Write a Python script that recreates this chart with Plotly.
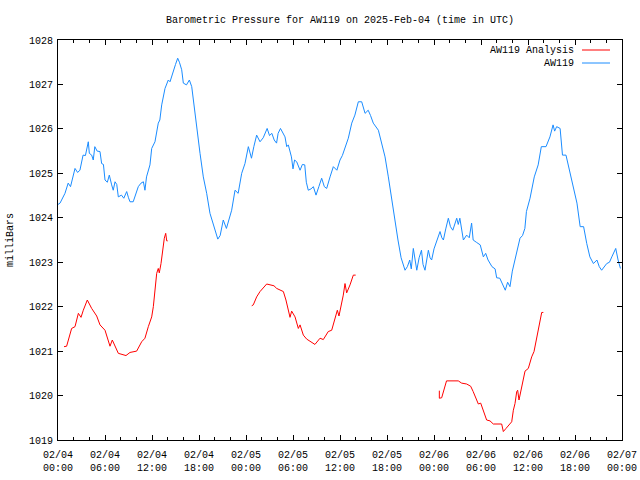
import pandas as pd
import plotly.graph_objects as go

BASE = pd.Timestamp("2025-02-04 00:00")

# AW119 observed pressure (hours since 02/04 00:00 UTC, mb)
aw_hours = [0.0, 0.26, 0.89, 1.3, 1.6, 1.96, 2.17, 2.5, 2.8, 3.2, 3.5, 3.87, 4.0, 4.3, 4.5, 4.7, 5.0, 5.36, 5.57, 5.8,
            6.0, 6.3, 6.55, 6.85, 7.05, 7.28, 7.5, 7.7, 8.1, 8.4, 8.77, 9.0, 9.19, 9.6, 10.0, 10.25, 10.6, 10.9, 11.1, 11.3,
            11.74, 11.96, 12.38, 12.8, 13.0, 13.24, 13.66, 14.08, 14.3, 14.72, 15.0, 15.28, 15.5, 15.79, 16.0, 16.4, 16.77,
            17.07, 17.27, 17.7, 18.13, 18.55, 18.98, 19.4, 20.04, 20.4, 20.7, 21.1, 21.5, 21.8, 22.17, 22.6, 23.0, 23.45,
            23.87, 24.3, 24.7, 25.0, 25.36, 25.79, 26.2, 26.7, 27.0, 27.3, 27.6, 27.9, 28.1, 28.4, 28.7, 28.98, 29.2, 29.4,
            29.8, 30.0, 30.2, 30.47, 30.9, 31.2, 31.5, 31.7, 31.95, 32.3, 32.6, 32.94, 33.3, 33.66, 34.0, 34.3, 34.73, 35.15,
            35.6, 36.0, 36.3, 36.64, 37.06, 37.5, 37.9, 38.34, 38.77, 39.2, 39.6, 39.9, 40.25, 40.9, 41.3, 41.75, 42.17,
            42.6, 43.0, 43.4, 43.8, 44.3, 44.6, 44.9, 45.1, 45.36, 45.8, 46.1, 46.4, 46.6, 46.85, 47.28, 47.5, 47.7, 48.0,
            48.35, 48.77, 49.0, 49.2, 49.5, 49.83, 50.1, 50.4, 50.9, 51.1, 51.3, 51.5, 51.75, 52.17, 52.5, 52.8, 53.0, 53.4,
            53.9, 54.3, 54.6, 54.9, 55.4, 55.8, 56.0, 56.4, 56.8, 57.1, 57.4, 57.7, 58.0, 58.3, 58.98, 59.3, 59.6, 59.8,
            60.26, 60.8, 61.3, 61.7, 62.3, 62.8, 63.2, 63.4, 63.66, 64.1, 64.4, 64.85, 65.4, 65.8, 66.25, 66.66, 67.1, 67.5,
            67.9, 68.35, 68.8, 69.1, 69.4, 70.05, 70.4, 70.7, 71.2, 71.5, 71.8]
aw_mb = [1024.3, 1024.33, 1024.55, 1024.78, 1024.7, 1025.0, 1025.11, 1025.02, 1025.07, 1025.41, 1025.4, 1025.71, 1025.45,
         1025.41, 1025.3, 1025.6, 1025.5, 1025.49, 1025.22, 1025.2, 1024.85, 1024.8, 1024.96, 1024.74, 1024.62, 1024.81,
         1024.75, 1024.47, 1024.51, 1024.44, 1024.59, 1024.45, 1024.36, 1024.36, 1024.55, 1024.7, 1024.78, 1024.81,
         1024.62, 1024.92, 1025.19, 1025.56, 1025.71, 1026.13, 1026.2, 1026.54, 1026.91, 1027.1, 1027.06, 1027.33,
         1027.45, 1027.59, 1027.5, 1027.33, 1027.03, 1026.99, 1027.1, 1026.95, 1026.65, 1025.97, 1025.45, 1024.92,
         1024.55, 1024.1, 1023.72, 1023.52, 1023.6, 1023.95, 1023.76, 1023.95, 1024.17, 1024.62, 1024.55, 1025.0,
         1025.22, 1025.6, 1025.34, 1025.6, 1025.86, 1025.71, 1025.8, 1026.01, 1025.85, 1025.9, 1025.75, 1025.68, 1025.9,
         1026.01, 1025.9, 1025.82, 1025.6, 1025.64, 1025.37, 1025.1, 1025.3, 1025.26, 1025.07, 1025.2, 1025.19, 1024.8,
         1024.62, 1024.65, 1024.7, 1024.51, 1024.7, 1024.89, 1024.7, 1024.66, 1024.92, 1025.15, 1025.07, 1025.3, 1025.4,
         1025.6, 1025.79, 1026.13, 1026.31, 1026.61, 1026.61, 1026.35, 1026.42, 1026.3, 1026.13, 1025.97, 1025.68,
         1025.37, 1024.92, 1024.4, 1023.88, 1023.5, 1023.1, 1022.82, 1022.9, 1023.05, 1022.85, 1023.31, 1022.82, 1023.1,
         1023.27, 1022.95, 1022.82, 1023.27, 1023.1, 1023.05, 1023.3, 1023.5, 1023.69, 1023.55, 1023.5, 1023.75,
         1023.99, 1023.8, 1023.72, 1023.99, 1023.85, 1023.99, 1023.8, 1023.5, 1023.61, 1023.55, 1023.88, 1023.5,
         1023.45, 1023.39, 1023.12, 1023.2, 1023.05, 1022.9, 1022.85, 1022.65, 1022.64, 1022.5, 1022.37, 1022.55,
         1022.45, 1022.8, 1023.05, 1023.54, 1023.6, 1023.76, 1024.14, 1024.44, 1024.92, 1025.19, 1025.6, 1025.6,
         1025.82, 1026.09, 1025.95, 1026.05, 1026.01, 1025.41, 1025.41, 1025.0, 1024.7, 1024.33, 1023.8, 1023.8,
         1023.42, 1023.12, 1022.97, 1023.05, 1022.9, 1022.82, 1022.97, 1023.0, 1023.12, 1023.31, 1023.05, 1022.86]

# AW119 Analysis (three runs; None = gap)
an_hours = [0.77, 1.1, 1.74, 2.17, 2.6, 2.94, 3.23, 3.74, 4.3, 4.94, 5.36, 6.0, 6.64, 6.93, 7.7, 8.68, 9.19, 10.04, 10.68,
            11.1, 11.53, 11.96, 12.17, 12.38, 12.6, 12.8, 12.93, 13.15, 13.36, 13.57, 13.75, 13.88, 14.0, 19.0,
            24.73, 24.93, 25.36, 25.79, 26.64, 27.57, 27.92, 28.77, 29.1, 29.4, 29.62, 29.83, 30.26, 30.68, 30.9, 31.32,
            31.75, 32.8, 33.45, 33.87, 34.5, 34.94, 35.36, 35.66, 35.87, 36.2, 36.42, 36.64, 36.85, 37.28, 37.7, 38.0, 43.0,
            48.68, 48.68, 48.98, 49.4, 49.6, 51.1, 51.53, 52.17, 52.68, 53.0, 53.36, 53.66, 53.96, 54.3, 54.72, 55.15,
            55.57, 56.64, 56.85, 57.19, 57.62, 57.92, 58.13, 58.34, 58.56, 58.68, 58.85, 59.07, 59.4, 59.62, 60.04, 60.47,
            60.77, 61.11, 61.32, 61.62, 61.75, 61.96]
an_mb = [1021.1, 1021.11, 1021.51, 1021.55, 1021.85, 1021.76, 1021.92, 1022.15, 1021.96, 1021.79, 1021.59, 1021.47,
         1021.11, 1021.25, 1020.95, 1020.9, 1020.97, 1021.0, 1021.21, 1021.29, 1021.55, 1021.77, 1022.0, 1022.37,
         1022.75, 1022.86, 1022.76, 1022.97, 1023.27, 1023.54, 1023.65, 1023.48, 1023.48, None,
         1022.02, 1022.04, 1022.22, 1022.34, 1022.51, 1022.47, 1022.41, 1022.34, 1022.15, 1021.92, 1021.76, 1021.9,
         1021.77, 1021.51, 1021.59, 1021.36, 1021.27, 1021.15, 1021.29, 1021.26, 1021.44, 1021.47, 1021.77, 1021.92,
         1021.79, 1022.04, 1022.26, 1022.52, 1022.31, 1022.49, 1022.71, 1022.71, None,
         1020.11, 1019.94, 1019.95, 1020.2, 1020.33, 1020.33, 1020.28, 1020.26, 1020.21, 1020.09, 1019.94, 1019.81,
         1019.83, 1019.64, 1019.45, 1019.43, 1019.36, 1019.36, 1019.19, 1019.26, 1019.36, 1019.41, 1019.67, 1019.82,
         1020.09, 1020.12, 1019.9, 1020.09, 1020.31, 1020.55, 1020.61, 1020.87, 1020.99, 1021.29, 1021.51, 1021.81,
         1021.87, 1021.87]

y_ticks = [1019, 1020, 1021, 1022, 1023, 1024, 1025, 1026, 1027, 1028]
TITLE = "Barometric Pressure for AW119 on 2025-Feb-04 (time in UTC)"
Y_TITLE = "milliBars"
RED = "#ff0000"
BLUE = "#1a8cff"
FONT = "Liberation Mono, DejaVu Sans Mono, monospace"
FS = 10

def to_time(hours):
    return [BASE + pd.Timedelta(hours=h) for h in hours]

fig = go.Figure()
fig.add_trace(go.Scatter(x=to_time(an_hours), y=an_mb, mode="lines", name="AW119 Analysis",
                         line=dict(color=RED, width=1), connectgaps=False, showlegend=False))
fig.add_trace(go.Scatter(x=to_time(aw_hours), y=aw_mb, mode="lines", name="AW119",
                         line=dict(color=BLUE, width=1), showlegend=False))

# legend drawn gnuplot-style (text, then line sample)
for i, (name, col) in enumerate([("AW119 Analysis", RED), ("AW119", BLUE)]):
    yp = 1 - (10 + 13 * i) / 400
    fig.add_annotation(x=(576 - 58) / 564, y=yp, xref="paper", yref="paper", text=name,
                       showarrow=False, xanchor="right", yanchor="middle",
                       font=dict(family=FONT, size=FS, color="black"))
    fig.add_shape(type="line", xref="paper", yref="paper",
                  x0=(582 - 58) / 564, x1=(610 - 58) / 564, y0=yp, y1=yp,
                  line=dict(color=col, width=1))

# y-axis title placed like gnuplot
fig.add_annotation(x=-48 / 564, y=0.5, xref="paper", yref="paper", text=Y_TITLE, textangle=-90,
                   showarrow=False, xanchor="center", yanchor="middle",
                   font=dict(family=FONT, size=FS, color="black"))

fig.update_layout(
    width=640, height=480,
    margin=dict(l=58, r=18, t=40, b=40, autoexpand=False),
    paper_bgcolor="white", plot_bgcolor="white",
    font=dict(family=FONT, size=FS, color="black"),
    title=dict(text=TITLE, x=340 / 640, xanchor="center", y=1 - 19 / 480, yanchor="middle",
               font=dict(family=FONT, size=FS)),
    showlegend=False,
)
fig.update_xaxes(
    type="date", range=[BASE, BASE + pd.Timedelta(hours=72)], automargin=False,
    dtick=6 * 3600 * 1000, tick0=BASE, tickformat="%m/%d<br>%H:%M",
    ticks="inside", ticklen=5, tickcolor="black", ticklabelstandoff=5,
    minor=dict(dtick=2 * 3600 * 1000, ticks="inside", ticklen=3, tickcolor="black", showgrid=False),
    showline=True, linecolor="black", linewidth=1, mirror="ticks", showgrid=False, zeroline=False,
    tickfont=dict(family=FONT, size=FS),
)
fig.update_yaxes(
    range=[1019, 1028], tickvals=y_ticks, ticktext=[str(v) for v in y_ticks], automargin=False,
    ticks="inside", ticklen=5, tickcolor="black", ticklabelstandoff=2,
    showline=True, linecolor="black", linewidth=1, mirror="ticks", showgrid=False, zeroline=False,
    tickfont=dict(family=FONT, size=FS),
)

# remove the default page margin so the 640x480 figure fills the window exactly
fig.write_html("out.html", config={"displayModeBar": False},
               post_script="document.body.style.margin='0';")
